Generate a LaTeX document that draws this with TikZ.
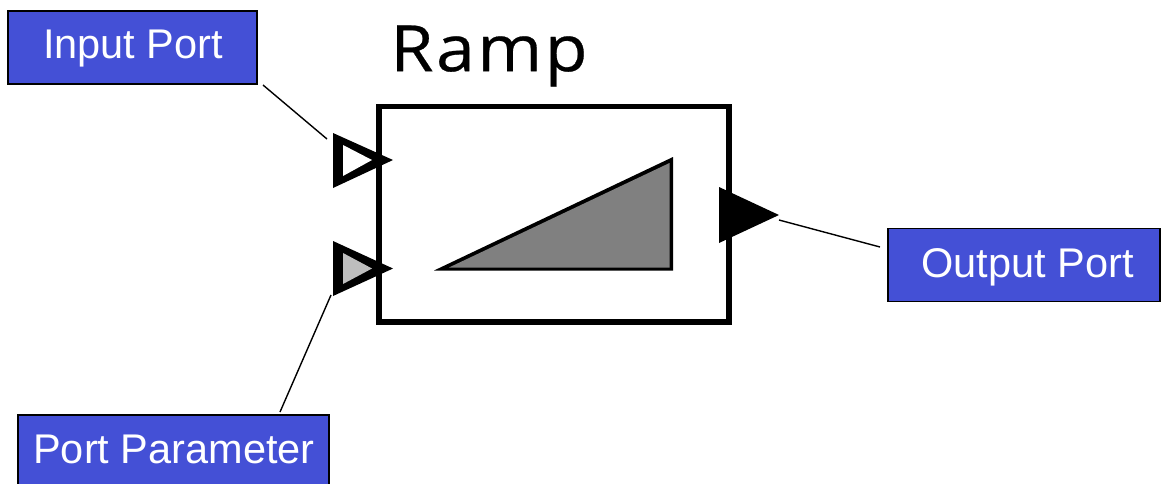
\documentclass[tikz,border=0pt]{standalone}
\usepackage{fontspec}
\setmainfont{Liberation Sans}
\newfontfamily\rampfont[FakeStretch=1.09,LetterSpace=4,FakeBold=0.4]{Open Sans}
\definecolor{lbl}{HTML}{4450D6}
\definecolor{gtri}{HTML}{808080}
\definecolor{gport}{HTML}{BEBEBE}
\begin{document}
\begin{tikzpicture}[x=1pt,y=-1pt,
  lblbox/.style={draw=black,line width=1.4pt,fill=lbl,minimum height=73pt,anchor=center,inner sep=0pt},
  lbltext/.style={text=white,inner sep=0pt,font=\fontsize{41.5}{41.5}\selectfont},
  lead/.style={draw=black,line width=1.4pt}]
\useasboundingbox (0,0) rectangle (1161,483);
\node[lblbox,minimum width=249pt] (ip) at (132.5,47.5) {};
\node[lbltext] (ipt) at (133,49) {Input Port};
\node[lblbox,minimum width=272pt] (op) at (1024,265) {};
\node[lbltext] (opt) at (1027.5,267) {Output Port};
\node[lblbox,minimum width=311pt,minimum height=70pt] (pp) at (173.5,450) {};
\node[lbltext] (ppt) at (174,449.5) {Port Parameter};
\node[font=\rampfont\fontsize{64}{64}\selectfont,inner sep=0pt] (title) at (489,56) {Ramp};
\draw[line width=5.5pt] (379,106.5) rectangle (729,322);
\fill[black] (434,270.5) -- (673,157) -- (673,270.5) -- cycle;
\fill[gtri] (449,267.5) -- (669.5,163) -- (669.5,267.5) -- cycle;
\coordinate (a0) at (263,85);
\coordinate (a1) at (327,139);
\coordinate (b0) at (280,412);
\coordinate (b1) at (331,295);
\coordinate (c0) at (779,220);
\coordinate (c1) at (880,247);
\fill[black] (333,133) -- (333,188) -- (393,160) -- cycle;
\fill[white] (343,145) -- (343,176) -- (372,160) -- cycle;
\fill[black] (333,241) -- (333,296) -- (393,268.5) -- cycle;
\fill[gport] (343,253) -- (343,284) -- (372,268.5) -- cycle;
\fill[black] (719,187) -- (719,243) -- (779,215) -- cycle;
\draw[lead] (a0) -- (a1);
\draw[lead] (b0) -- (b1);
\draw[lead] (c0) -- (c1);
\end{tikzpicture}
\end{document}
